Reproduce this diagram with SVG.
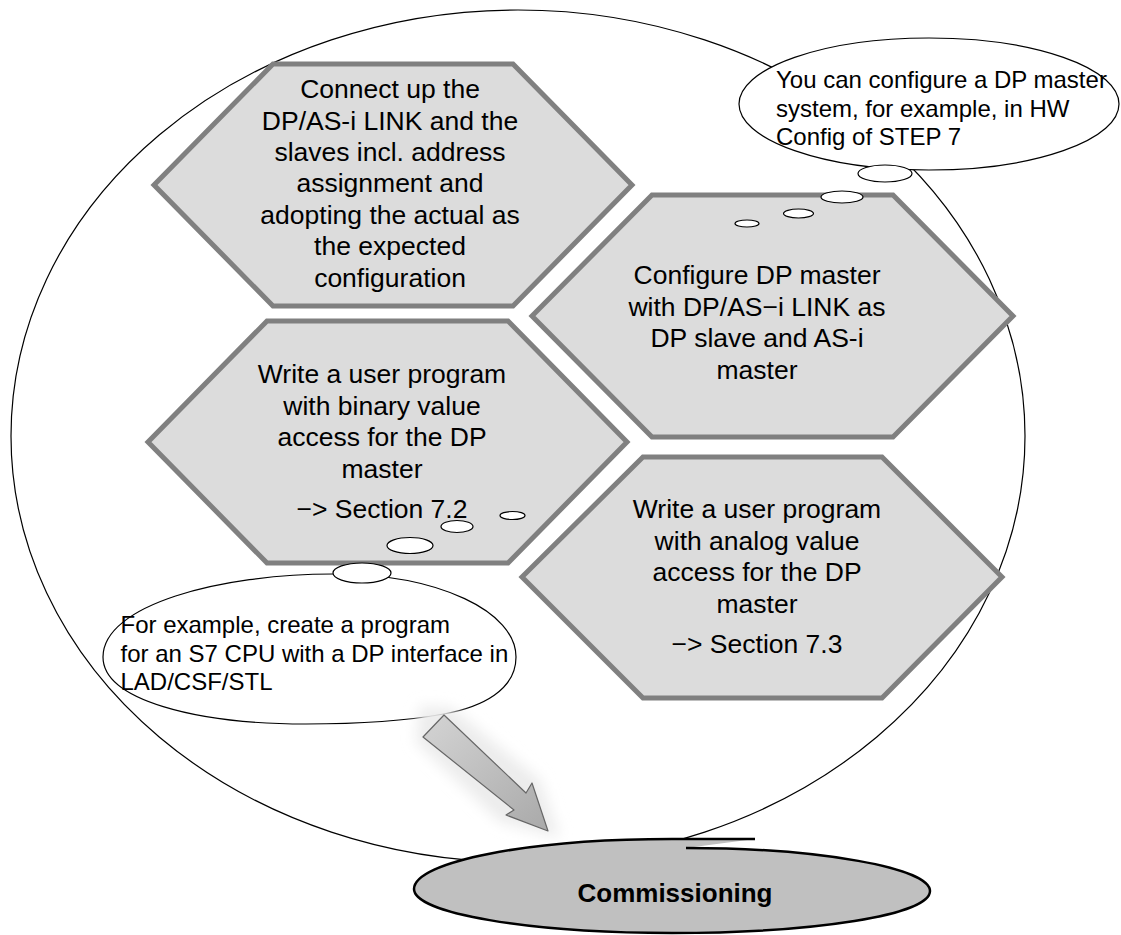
<svg xmlns="http://www.w3.org/2000/svg" width="1121" height="935" viewBox="0 0 1121 935">
<style>
.hex{fill:#dcdcdc;stroke:#808080;stroke-width:5;stroke-linejoin:miter}
.ht{font-family:"Liberation Sans",Arial,Helvetica,sans-serif;font-size:26.5px;fill:#000;text-anchor:middle}
.bt{font-family:"Liberation Sans",Arial,Helvetica,sans-serif;font-size:24px;fill:#000}
.thin{fill:none;stroke:#000;stroke-width:1.2}
.tb{fill:#fff;stroke:#000;stroke-width:1.2}
</style>
<defs>
<linearGradient id="ag" x1="0" y1="0" x2="1" y2="1">
<stop offset="0" stop-color="#d4d4d4"/>
<stop offset="1" stop-color="#a9a9a9"/>
</linearGradient>
<filter id="blur" x="-30%" y="-30%" width="160%" height="160%"><feGaussianBlur stdDeviation="7"/></filter>
</defs>
<rect width="1121" height="935" fill="#fff"/>
<g id="boundary">
<ellipse class="thin" cx="518" cy="436" rx="507" ry="426"/>
</g>
<g id="hex-connect">
<polygon class="hex" points="154,185 273,64 513,64 632,185 513,306 273,306"/>
<text class="ht"><tspan x="390" y="98">Connect up the</tspan><tspan x="390" y="129.5">DP/AS-i LINK and the</tspan><tspan x="390" y="161">slaves incl. address</tspan><tspan x="390" y="192">assignment and</tspan><tspan x="390" y="223.5">adopting the actual as</tspan><tspan x="390" y="255">the expected</tspan><tspan x="390" y="286.5">configuration</tspan></text>
</g>
<g id="hex-configure">
<polygon class="hex" points="532,316 652,195 893,195 1013,316 893,437 652,437"/>
<text class="ht"><tspan x="757" y="284">Configure DP master</tspan><tspan x="757" y="315.5">with DP/AS−i LINK as</tspan><tspan x="757" y="347">DP slave and AS-i</tspan><tspan x="757" y="378.5">master</tspan></text>
</g>
<g id="hex-binary">
<polygon class="hex" points="148,442 267,321 508,321 627,442 508,563 267,563"/>
<text class="ht"><tspan x="382" y="383">Write a user program</tspan><tspan x="382" y="414.5">with binary value</tspan><tspan x="382" y="446">access for the DP</tspan><tspan x="382" y="477.5">master</tspan><tspan x="382" y="518">−&gt; Section 7.2</tspan></text>
</g>
<g id="hex-analog">
<polygon class="hex" points="522,577 643,457 882,457 1002,577 882,698 643,698"/>
<text class="ht"><tspan x="757" y="518">Write a user program</tspan><tspan x="757" y="549.5">with analog value</tspan><tspan x="757" y="581">access for the DP</tspan><tspan x="757" y="612.5">master</tspan><tspan x="757" y="653">−&gt; Section 7.3</tspan></text>
</g>
<g id="note-hwconfig">
<ellipse class="tb" cx="929" cy="104" rx="190" ry="66"/>
<text class="bt"><tspan x="776" y="88">You can configure a DP master</tspan><tspan x="776" y="117">system, for example, in HW</tspan><tspan x="776" y="145">Config of STEP 7</tspan></text>
<ellipse class="tb" cx="885" cy="173.5" rx="27" ry="8.5"/>
<ellipse class="tb" cx="842" cy="197" rx="21" ry="6"/>
<ellipse class="tb" cx="798.5" cy="213.5" rx="15" ry="4.5"/>
<ellipse class="tb" cx="747" cy="223.5" rx="12" ry="3.5"/>
</g>
<g id="note-program">
<path class="thin" d="M 103,657 C 103,605 220,574 333,574 C 440,574 516,612 516,657 C 516,690 482,707 444,714 C 400,722 352,724 306,724 C 196,724 103,700 103,657 Z"/>
<text class="bt"><tspan x="120.5" y="633">For example, create a program</tspan><tspan x="120.5" y="662">for an S7 CPU with a DP interface in</tspan><tspan x="120.5" y="690">LAD/CSF/STL</tspan></text>
<ellipse class="tb" cx="512.5" cy="515.5" rx="12.5" ry="4"/>
<ellipse class="tb" cx="457" cy="526.5" rx="16" ry="6"/>
<ellipse class="tb" cx="410" cy="545.5" rx="23" ry="8"/>
<ellipse class="tb" cx="362" cy="573" rx="29" ry="10"/>
</g>
<g id="connectors">
<polygon points="420,706 452,708 540,780 560,838 500,822 416,742" fill="#ececec" filter="url(#blur)"/>
<polygon points="444,715 526,793 532,783 548,831 506,815 514,810 423,737" fill="url(#ag)" stroke="#666" stroke-width="1.2" stroke-linejoin="round"/>
</g>
<g id="commissioning">
<path d="M 755,839 L 672,839 C 529.5,839 414,861.4 414,889 C 414,913.3 529.5,933 672,933 C 814.5,933 930,915 930,891 C 930,868 820,848 686,848" fill="#c0c0c0" stroke="#000" stroke-width="2.5"/>
<text x="675" y="902" font-family="'Liberation Sans',Arial,Helvetica,sans-serif" font-size="26" font-weight="bold" text-anchor="middle" fill="#000">Commissioning</text>
</g>
</svg>
